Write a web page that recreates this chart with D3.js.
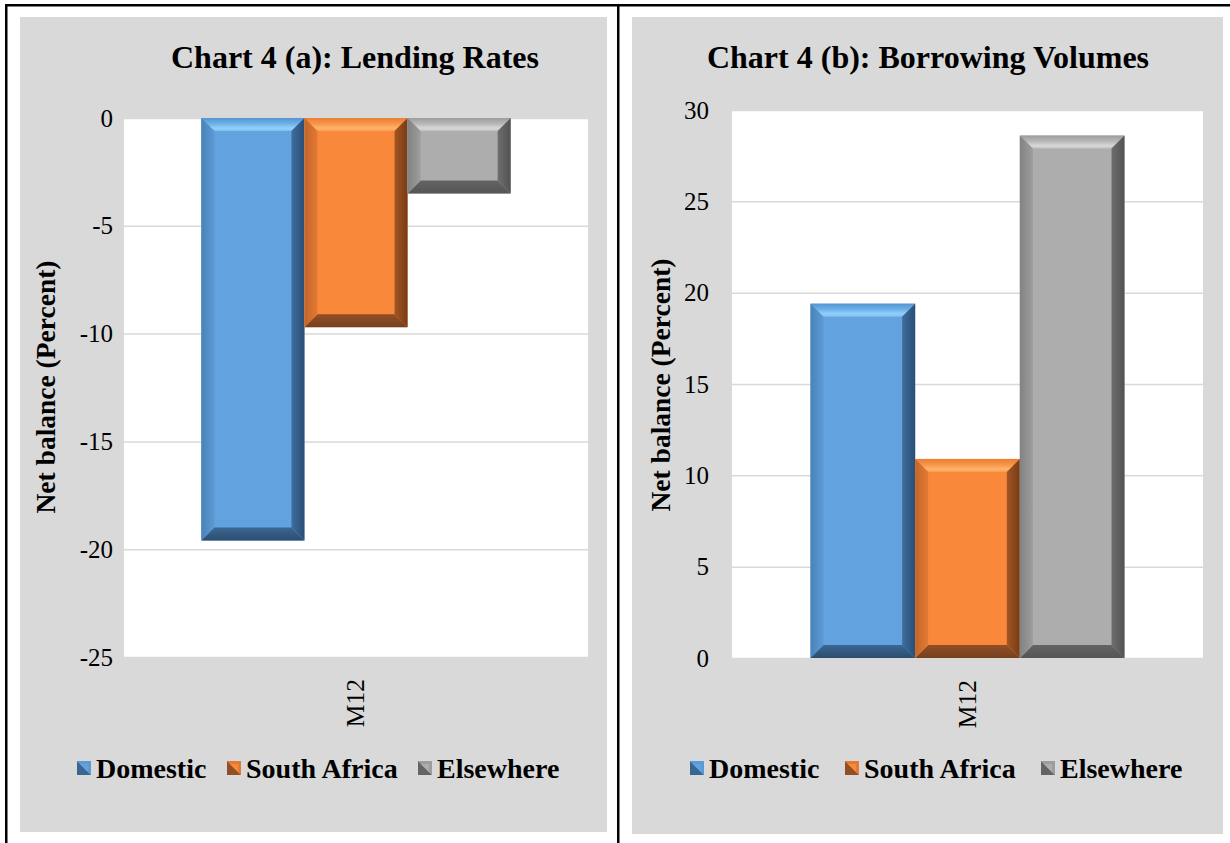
<!DOCTYPE html>
<html>
<head>
<meta charset="utf-8">
<script src="https://cdn.jsdelivr.net/npm/d3@7"></script>
<style>
  html, body { margin: 0; padding: 0; background: #ffffff; }
  svg { display: block; }
  text { font-family: "Liberation Serif", "Times New Roman", serif; fill: #000; }
</style>
</head>
<body>
<svg id="chart" width="1230" height="843"></svg>
<script>
// ---- data ----
const seriesNames = ["Domestic", "South Africa", "Elsewhere"];
const categories = ["M12"];
const lendingRates = [-19.6, -9.7, -3.5];
const borrowingVolumes = [19.4, 10.9, 28.6];
const lendingTicks = [0, -5, -10, -15, -20, -25];
const borrowingTicks = [0, 5, 10, 15, 20, 25, 30];
const panelTitles = ["Chart 4 (a): Lending Rates", "Chart 4 (b): Borrowing Volumes"];
const axisTitle = "Net balance (Percent)";

// bevel shading per series: face, and outer/inner stops for each side
const palettes = [
  { key: "dom", face: "#62a2de",
    top: ["#5495d0", "#6eb1ea", "#93d0fa", "#7fbff0"],
    left: ["#4a82b9", "#5c9ad4"], right: ["#2b4e76", "#3e6d9d"], bottom: ["#2c4d71", "#3a6791"] },
  { key: "sa", face: "#f9883a",
    top: ["#e97f33", "#f9944a", "#fcb56c", "#fa9d52"],
    left: ["#c2652a", "#e37a33"], right: ["#763c16", "#a45522"], bottom: ["#763f1d", "#914f28"] },
  { key: "els", face: "#adadad",
    top: ["#9c9c9c", "#b8b8b8", "#d8d8d8", "#c2c2c2"],
    left: ["#828282", "#9d9d9d"], right: ["#525252", "#6e6e6e"], bottom: ["#555555", "#646464"] }
];

const svg = d3.select("#chart");
const defs = svg.append("defs");

// gradients for each bevelled side
palettes.forEach(p => {
  const mk = (id, x1, y1, x2, y2, stops) => {
    const g = defs.append("linearGradient").attr("id", id)
      .attr("x1", x1).attr("y1", y1).attr("x2", x2).attr("y2", y2);
    stops.forEach(([o, c]) => g.append("stop").attr("offset", o).attr("stop-color", c));
  };
  mk(p.key + "-top", 0, 0, 0, 1, [[0, p.top[0]], [0.45, p.top[1]], [0.78, p.top[2]], [1, p.top[3]]]);
  mk(p.key + "-left", 0, 0, 1, 0, [[0, p.left[0]], [1, p.left[1]]]);
  mk(p.key + "-right", 1, 0, 0, 0, [[0, p.right[0]], [1, p.right[1]]]);
  mk(p.key + "-bottom", 0, 1, 0, 0, [[0, p.bottom[0]], [1, p.bottom[1]]]);
});

// page frame lines
svg.append("rect").attr("x", 5).attr("y", 4).attr("width", 1225).attr("height", 2.5).attr("fill", "#000");
svg.append("rect").attr("x", 5).attr("y", 4).attr("width", 2.5).attr("height", 839).attr("fill", "#000");
svg.append("rect").attr("x", 617).attr("y", 4).attr("width", 2.5).attr("height", 839).attr("fill", "#000");

function bevelBar(g, x, y, w, h, p) {
  const b = Math.min(13, w / 2, h / 2);
  g.append("rect").attr("x", x).attr("y", y).attr("width", w).attr("height", h).attr("fill", p.face);
  const poly = (pts, fill) => g.append("polygon")
    .attr("points", pts.map(d => d.join(",")).join(" ")).attr("fill", fill);
  poly([[x, y], [x + w, y], [x + w - b, y + b], [x + b, y + b]], `url(#${p.key}-top)`);
  poly([[x, y + h], [x + w, y + h], [x + w - b, y + h - b], [x + b, y + h - b]], `url(#${p.key}-bottom)`);
  poly([[x, y], [x + b, y + b], [x + b, y + h - b], [x, y + h]], `url(#${p.key}-left)`);
  poly([[x + w, y], [x + w - b, y + b], [x + w - b, y + h - b], [x + w, y + h]], `url(#${p.key}-right)`);
}

// plain hyphen for negative tick labels
const tickFmt = d => String(d);

function drawPanel(cfg) {
  const g = svg.append("g");
  // grey chart area
  g.append("rect").attr("x", cfg.box[0]).attr("y", cfg.box[1])
    .attr("width", cfg.box[2]).attr("height", cfg.box[3]).attr("fill", "#d9d9d9");
  // white plot area
  g.append("rect").attr("x", cfg.plot.x0).attr("y", cfg.plot.y0)
    .attr("width", cfg.plot.x1 - cfg.plot.x0).attr("height", cfg.plot.y1 - cfg.plot.y0)
    .attr("fill", "#ffffff");

  const y = d3.scaleLinear().domain(cfg.domain).range([cfg.plot.y1, cfg.plot.y0]);
  const x0 = d3.scaleBand().domain(categories).range([cfg.plot.x0, cfg.plot.x1])
    .paddingInner(0).paddingOuter(0.25);
  const x1 = d3.scaleBand().domain(seriesNames).range([0, x0.bandwidth()]).padding(0);

  // value axis with gridlines
  const yAxis = d3.axisLeft(y).tickValues(cfg.ticks).tickFormat(tickFmt)
    .tickSize(-(cfg.plot.x1 - cfg.plot.x0)).tickPadding(12);
  const ya = g.append("g").attr("transform", `translate(${cfg.plot.x0},0)`).call(yAxis);
  ya.select(".domain").remove();
  ya.selectAll(".tick line").attr("stroke", "#d9d9d9").attr("stroke-width", 1.5);
  ya.selectAll(".tick text").attr("font-size", 25).attr("font-family", "Liberation Serif")
    .attr("x", cfg.tickX - cfg.plot.x0);

  // bars
  const base = y(0);
  categories.forEach(c => {
    cfg.values.forEach((v, i) => {
      const bx = x0(c) + x1(seriesNames[i]);
      const top = Math.min(y(v), base);
      const h = Math.abs(y(v) - base);
      bevelBar(g, bx, top, x1.bandwidth(), h, palettes[i]);
    });
  });

  // category axis
  const xAxis = d3.axisBottom(x0).tickSize(0).tickPadding(0);
  const xa = g.append("g").attr("transform", `translate(0,${cfg.plot.y1})`).call(xAxis);
  xa.select(".domain").remove();
  xa.selectAll(".tick text")
    .attr("font-size", 25.5).attr("font-family", "Liberation Serif")
    .attr("text-anchor", "end")
    .attr("transform", "rotate(-90)")
    .attr("x", -22).attr("y", 0).attr("dy", "0.33em");

  // title
  g.append("text").attr("x", cfg.titleX).attr("y", 68).attr("text-anchor", "middle")
    .attr("font-size", 32).attr("font-weight", "bold").text(cfg.title);

  // axis title
  g.append("text")
    .attr("transform", `translate(${cfg.axisTitleX},${cfg.axisTitleY}) rotate(-90)`)
    .attr("text-anchor", "middle").attr("font-size", 27.5).attr("font-weight", "bold")
    .text(axisTitle);

  // legend
  const lg = g.append("g").attr("transform", `translate(0,768)`);
  seriesNames.forEach((s, i) => {
    const lx = cfg.legendX[i];
    const p = palettes[i];
    const item = lg.append("g").attr("transform", `translate(${lx},0)`);
    item.append("rect").attr("x", 0).attr("y", -7).attr("width", 14).attr("height", 14).attr("fill", p.face);
    item.append("polygon").attr("points", "0,-7 0,7 14,7").attr("fill", p.bottom[1]);
    item.append("polygon").attr("points", "0,-7 14,-7 14,7").attr("fill", p.left[1]);
    item.append("polygon").attr("points", "3,-4 11,-4 11,4").attr("fill", p.face);
    item.append("text").attr("x", 19).attr("y", 9.5).attr("font-size", 28)
      .attr("font-weight", "bold").text(s);
  });
}

drawPanel({
  box: [20, 17, 587, 815],
  plot: { x0: 124, x1: 588, y0: 118, y1: 657 },
  domain: [-25, 0],
  ticks: lendingTicks,
  values: lendingRates,
  tickX: 113,
  title: panelTitles[0],
  titleX: 355,
  axisTitleX: 55,
  axisTitleY: 387,
  legendX: [77, 227, 418]
});

drawPanel({
  box: [632, 17, 591, 817],
  plot: { x0: 732, x1: 1203, y0: 110, y1: 658 },
  domain: [0, 30],
  ticks: borrowingTicks,
  values: borrowingVolumes,
  tickX: 709,
  title: panelTitles[1],
  titleX: 928,
  axisTitleX: 670,
  axisTitleY: 385,
  legendX: [690, 845, 1041]
});
</script>
</body>
</html>
